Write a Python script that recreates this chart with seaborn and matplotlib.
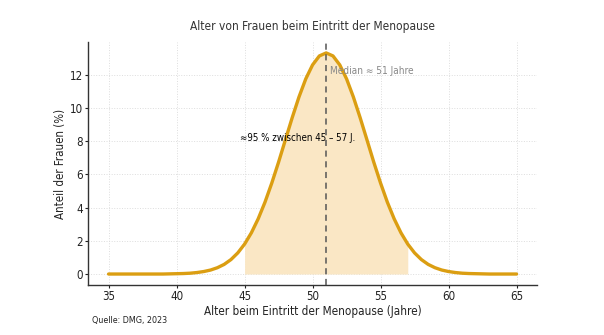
import matplotlib
matplotlib.use("Agg")
import matplotlib.pyplot as plt
import seaborn as sns
import pandas as pd
from matplotlib import font_manager

ages = [35, 35.5, 36, 36.5, 37, 37.5, 38, 38.5, 39, 39.5, 40, 40.5, 41, 41.5, 42, 42.5,
        43, 43.5, 44, 44.5, 45, 45.5, 46, 46.5, 47, 47.5, 48, 48.5, 49, 49.5, 50, 50.5,
        51, 51.5, 52, 52.5, 53, 53.5, 54, 54.5, 55, 55.5, 56, 56.5, 57, 57.5, 58, 58.5,
        59, 59.5, 60, 60.5, 61, 61.5, 62, 62.5, 63, 63.5, 64, 64.5, 65]
share = [0, 0, 0, 0, 0, 0, 0, 0, 0, 0.01, 0.02, 0.03, 0.05, 0.09, 0.15, 0.24,
         0.38, 0.58, 0.87, 1.27, 1.80, 2.48, 3.32, 4.32, 5.47, 6.73, 8.07, 9.40, 10.65, 11.74, 12.58, 13.12,
         13.30, 13.12, 12.58, 11.74, 10.65, 9.40, 8.07, 6.73, 5.47, 4.32, 3.32, 2.48, 1.80, 1.27, 0.87, 0.58,
         0.38, 0.24, 0.15, 0.09, 0.05, 0.03, 0.02, 0.01, 0, 0, 0, 0, 0]
median_age = 51
range_lo, range_hi = 45, 57

title = "Alter von Frauen beim Eintritt der Menopause"
xlabel = "Alter beim Eintritt der Menopause (Jahre)"
ylabel = "Anteil der Frauen (%)"
median_text = "Median ≈ 51 Jahre"
range_text = "≈95 % zwischen 45 – 57 J."
source_text = "Quelle: DMG, 2023"

df = pd.DataFrame({"age": ages, "share": share})

sns.set_theme(style="ticks")
names = sorted({f.name for f in font_manager.fontManager.ttflist})
fam = "DejaVu Sans Condensed" if "DejaVu Sans Condensed" in names else "DejaVu Sans"
plt.rcParams["font.family"] = [fam, "DejaVu Sans"]
plt.rcParams["font.stretch"] = "condensed"

fig = plt.figure(figsize=(6.04, 3.35), dpi=100)
ax = fig.add_axes([0.146, 0.149, 0.743, 0.726])

line_color = "#DB9E12"
sub = df[(df["age"] >= range_lo) & (df["age"] <= range_hi)]
ax.fill_between(sub["age"], 0, sub["share"], color="#FAE7C5", linewidth=0, zorder=1)
sns.lineplot(data=df, x="age", y="share", ax=ax, color=line_color, linewidth=2.4, zorder=3)
ax.axvline(median_age, color="#555555", linestyle=(0, (4, 3)), linewidth=1.1, zorder=4)

ax.text(median_age + 0.25, 12.2, median_text, color="#888888", fontsize=7.2, va="center", ha="left")
ax.text(48.9, 8.2, range_text, color="black", fontsize=7.0, va="center", ha="center")

ax.set_xticks([35, 40, 45, 50, 55, 60, 65])
ax.set_yticks([0, 2, 4, 6, 8, 10, 12])
ax.grid(True, linestyle=":", color="#dddddd", linewidth=0.7)
ax.set_axisbelow(True)
for s in ["top", "right"]:
    ax.spines[s].set_visible(False)
for s in ["left", "bottom"]:
    ax.spines[s].set_color("#333333")
    ax.spines[s].set_linewidth(1.0)
ax.tick_params(axis="both", labelsize=8.3, colors="#222222", length=2.5, width=0.8, pad=1.2)

ax.set_title(title, fontsize=8.6, color="#333333", pad=8.5)
ax.set_xlabel(xlabel, fontsize=8.4, color="#222222", labelpad=1)
ax.set_ylabel(ylabel, fontsize=8.3, color="#222222", labelpad=2)
fig.text(0.152, 0.035, source_text, fontsize=6.4, color="#222222")

fig.savefig("out.png", dpi=100)
